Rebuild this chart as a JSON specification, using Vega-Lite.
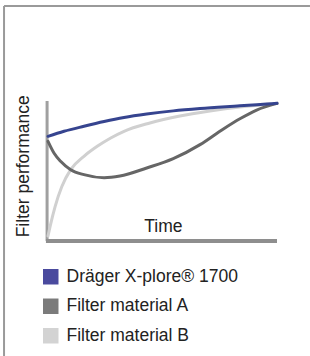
{
  "$schema": "https://vega.github.io/schema/vega-lite/v6.json",
  "width": 310,
  "height": 356,
  "autosize": "none",
  "padding": 0,
  "background": "white",
  "config": {"view": {"stroke": null}, "axis": {"disable": true}, "font": "Liberation Sans"},
  "data": {"values": [{}]},
  "datasets": {
    "legendItems": [
      {"label": "Dräger X-plore® 1700"},
      {"label": "Filter material A"},
      {"label": "Filter material B"}
    ],
    "curves": [
      {"series": "Filter material B", "t": 0, "perf": 2.9},
      {"series": "Filter material B", "t": 0.9, "perf": 9.6},
      {"series": "Filter material B", "t": 3.1, "perf": 24},
      {"series": "Filter material B", "t": 6, "perf": 38.3},
      {"series": "Filter material B", "t": 9.9, "perf": 50.6},
      {"series": "Filter material B", "t": 15.7, "perf": 60.2},
      {"series": "Filter material B", "t": 21.5, "perf": 67.4},
      {"series": "Filter material B", "t": 27.4, "perf": 73.4},
      {"series": "Filter material B", "t": 33.2, "perf": 78.2},
      {"series": "Filter material B", "t": 44.5, "perf": 84.2},
      {"series": "Filter material B", "t": 57.6, "perf": 89.2},
      {"series": "Filter material B", "t": 70.7, "perf": 92.8},
      {"series": "Filter material B", "t": 83.8, "perf": 95.7},
      {"series": "Filter material B", "t": 100, "perf": 98.2},
      {"series": "Filter material A", "t": 0, "perf": 71},
      {"series": "Filter material A", "t": 2.6, "perf": 62.6},
      {"series": "Filter material A", "t": 5.5, "perf": 56.6},
      {"series": "Filter material A", "t": 9.9, "perf": 50.6},
      {"series": "Filter material A", "t": 15.7, "perf": 47},
      {"series": "Filter material A", "t": 24.5, "perf": 44.8},
      {"series": "Filter material A", "t": 31.4, "perf": 46},
      {"series": "Filter material A", "t": 43.1, "perf": 51.8},
      {"series": "Filter material A", "t": 54.7, "perf": 58.5},
      {"series": "Filter material A", "t": 66.4, "perf": 68.6},
      {"series": "Filter material A", "t": 76.6, "perf": 79.9},
      {"series": "Filter material A", "t": 83.8, "perf": 87.2},
      {"series": "Filter material A", "t": 91.1, "perf": 93.5},
      {"series": "Filter material A", "t": 100, "perf": 98.3},
      {"series": "Dräger X-plore® 1700", "t": 0, "perf": 74.6},
      {"series": "Dräger X-plore® 1700", "t": 7, "perf": 78.2},
      {"series": "Dräger X-plore® 1700", "t": 15.7, "perf": 81.8},
      {"series": "Dräger X-plore® 1700", "t": 24.5, "perf": 85.2},
      {"series": "Dräger X-plore® 1700", "t": 33.2, "perf": 88.1},
      {"series": "Dräger X-plore® 1700", "t": 43.1, "perf": 90.6},
      {"series": "Dräger X-plore® 1700", "t": 54.7, "perf": 92.9},
      {"series": "Dräger X-plore® 1700", "t": 66.4, "perf": 94.6},
      {"series": "Dräger X-plore® 1700", "t": 83.8, "perf": 96.5},
      {"series": "Dräger X-plore® 1700", "t": 95.5, "perf": 97.8},
      {"series": "Dräger X-plore® 1700", "t": 100, "perf": 98.3}
    ]
  },
  "layer": [
    {
      "mark": {"type": "rule", "color": "#9a9a9a", "strokeWidth": 2},
      "encoding": {
        "x": {"datum": -19.2, "type": "quantitative", "scale": {"domain": [0, 100], "range": [48, 277]}, "axis": null},
        "y": {"datum": 168.3, "type": "quantitative", "scale": {"domain": [0, 100], "range": [240, 101]}, "axis": null},
        "x2": {"datum": 114.4}
      }
    },
    {
      "mark": {"type": "rule", "color": "#9a9a9a", "strokeWidth": 2},
      "encoding": {
        "x": {"datum": -19.2, "type": "quantitative"},
        "y": {"datum": 168.3, "type": "quantitative"},
        "y2": {"datum": -83.5}
      }
    },
    {
      "mark": {"type": "rule", "color": "#a0a0a0", "strokeWidth": 3},
      "encoding": {
        "x": {"datum": -0.4, "type": "quantitative"},
        "y": {"datum": -0.7, "type": "quantitative"},
        "y2": {"datum": 100}
      }
    },
    {
      "mark": {"type": "rule", "color": "#8e8e8e", "strokeWidth": 4},
      "encoding": {
        "x": {"datum": -0.9, "type": "quantitative"},
        "x2": {"datum": 100},
        "y": {"datum": -0.7, "type": "quantitative"}
      }
    },
    {
      "data": {"name": "curves"},
      "mark": {"type": "line", "interpolate": "monotone", "strokeWidth": 3, "strokeCap": "round"},
      "encoding": {
        "x": {"field": "t", "type": "quantitative"},
        "y": {"field": "perf", "type": "quantitative"},
        "stroke": {
          "field": "series",
          "type": "nominal",
          "scale": {"range": ["#36448f", "#666666", "#d0d0d0"]},
          "legend": null
        }
      }
    },
    {
      "data": {"name": "legendItems"},
      "mark": {"type": "square", "opacity": 0},
      "encoding": {
        "fill": {
          "field": "label",
          "type": "nominal",
          "scale": {"domain": ["Dräger X-plore® 1700", "Filter material A", "Filter material B"], "range": ["#4a4a9e", "#7b7b7b", "#d3d3d3"]},
          "legend": {
            "title": null,
            "orient": "none",
            "legendX": 42,
            "legendY": 268,
            "padding": 0,
            "symbolType": "square",
            "symbolSize": 240,
            "symbolOpacity": 1,
            "symbolStrokeWidth": 0,
            "labelFont": "Liberation Sans",
            "labelFontSize": 17.5,
            "labelColor": "#222222",
            "labelOffset": 7,
            "rowPadding": 10.5,
            "labelLimit": 300
          }
        }
      }
    },
    {
      "mark": {"type": "text", "text": "Time", "font": "Liberation Sans", "fontSize": 17.5, "color": "#222222", "align": "center", "baseline": "alphabetic"},
      "encoding": {
        "x": {"datum": 50.4, "type": "quantitative"},
        "y": {"datum": 5.8, "type": "quantitative"}
      }
    },
    {
      "mark": {"type": "text", "text": "Filter performance", "font": "Liberation Sans", "fontSize": 17.5, "color": "#222222", "align": "center", "baseline": "middle", "angle": 270},
      "encoding": {
        "x": {"datum": -10.5, "type": "quantitative"},
        "y": {"datum": 53, "type": "quantitative"}
      }
    }
  ]
}
